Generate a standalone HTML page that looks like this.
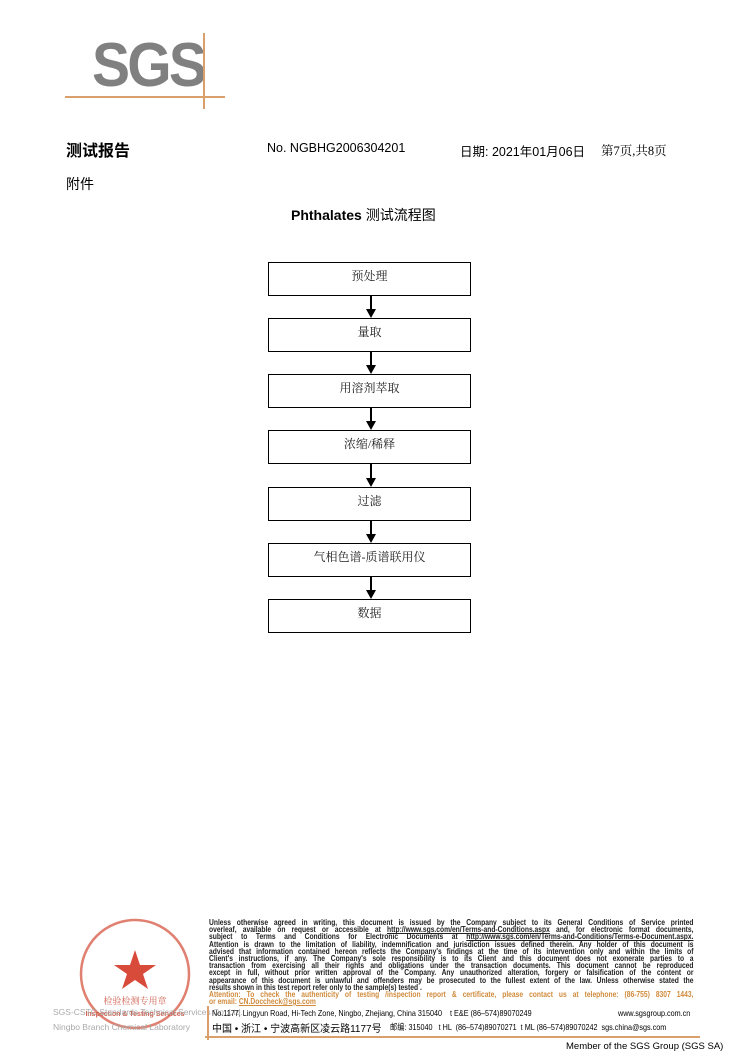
<!DOCTYPE html>
<html><head><meta charset="utf-8"><style>
body{margin:0;width:750px;height:1060px;position:relative;background:#fff;font-family:"Liberation Sans","Noto Sans CJK SC",sans-serif;overflow:hidden}
.a{position:absolute;white-space:nowrap}
.box{position:absolute;left:268px;width:203px;height:34px;border:1px solid #000;box-sizing:border-box;text-align:center;font-family:"Liberation Serif","Noto Serif CJK SC",serif;font-size:12px;line-height:12px;padding-top:7px;color:#222}
.ln{position:absolute;left:370px;width:1.5px;background:#000}
.ah{position:absolute;left:366px;width:0;height:0;border-left:5px solid transparent;border-right:5px solid transparent;border-top:9px solid #000}
.fine{position:absolute;left:209px;top:919px;width:570px;transform:scaleX(0.85);transform-origin:left top;font-size:7.9px;line-height:7.2px;font-weight:bold;color:#222;font-family:"Liberation Sans",sans-serif}
.fine div{text-align:justify;text-align-last:justify;white-space:nowrap;height:7.2px}
.fine div.l{text-align-last:left}
.or{color:#d08a3a}
</style></head><body>
<div class="a" style="left:92px;top:34px;font-size:62px;font-weight:bold;color:#808080;letter-spacing:-3px;transform:scaleX(0.92);transform-origin:left;line-height:64px">SGS</div>
<div class="a" style="left:65px;top:96px;width:160px;height:2px;background:#d9a06b"></div>
<div class="a" style="left:203px;top:33px;width:1.5px;height:76px;background:#d9a06b"></div>

<div class="a" style="left:66px;top:137px;font-size:16px;font-weight:bold">测试报告</div>
<div class="a" style="left:267px;top:141px;font-size:12.5px">No. NGBHG2006304201</div>
<div class="a" style="left:460px;top:141px;font-size:12.5px">日期: 2021年01月06日</div>
<div class="a" style="left:601px;top:141px;font-size:12.5px;font-family:'Liberation Serif','Noto Serif CJK SC',serif">第7页,共8页</div>
<div class="a" style="left:66px;top:174px;font-size:14px">附件</div>
<div class="a" style="left:291px;top:205px;font-size:14px;font-weight:bold">Phthalates <span style="font-weight:normal">测试流程图</span></div>

<div class="box" style="top:262px">预处理</div>
<div class="ln" style="top:296px;height:14px"></div><div class="ah" style="top:309px"></div>
<div class="box" style="top:318px">量取</div>
<div class="ln" style="top:352px;height:14px"></div><div class="ah" style="top:365px"></div>
<div class="box" style="top:374px">用溶剂萃取</div>
<div class="ln" style="top:408px;height:14px"></div><div class="ah" style="top:421px"></div>
<div class="box" style="top:430px">浓缩/稀释</div>
<div class="ln" style="top:464px;height:15px"></div><div class="ah" style="top:478px"></div>
<div class="box" style="top:487px">过滤</div>
<div class="ln" style="top:521px;height:14px"></div><div class="ah" style="top:534px"></div>
<div class="box" style="top:543px">气相色谱-质谱联用仪</div>
<div class="ln" style="top:577px;height:14px"></div><div class="ah" style="top:590px"></div>
<div class="box" style="top:599px">数据</div>

<svg class="a" style="left:70px;top:912px" width="140" height="130">
<circle cx="65" cy="62" r="54" fill="none" stroke="#e08070" stroke-width="2.5"/>
<polygon points="65,38 70,53 86,53 73,62 78,77 65,68 52,77 57,62 44,53 60,53" fill="#d84a3a"/>
<text x="65" y="92" font-size="9" fill="#d06050" text-anchor="middle" font-family="Noto Serif CJK SC,serif">检验检测专用章</text>
<text x="65" y="104" font-size="7" fill="#d06050" text-anchor="middle" font-weight="bold" font-family="Liberation Sans">Inspection &amp; Testing Services</text>
</svg>
<div class="a" style="left:53px;top:1007px;font-size:8.5px;color:#aaa">SGS-CSTC Standards Technical Services Co.,Ltd.</div>
<div class="a" style="left:53px;top:1022px;font-size:8.5px;color:#aaa">Ningbo Branch Chemical Laboratory</div>

<div class="fine">
<div>Unless otherwise agreed in writing, this document is issued by the Company subject to its General Conditions of Service printed</div>
<div>overleaf, available on request or accessible at <u>http://www.sgs.com/en/Terms-and-Conditions.aspx</u> and, for electronic format documents,</div>
<div>subject to Terms and Conditions for Electronic Documents at <u>http://www.sgs.com/en/Terms-and-Conditions/Terms-e-Document.aspx.</u></div>
<div>Attention is drawn to the limitation of liability, indemnification and jurisdiction issues defined therein. Any holder of this document is</div>
<div>advised that information contained hereon reflects the Company's findings at the time of its intervention only and within the limits of</div>
<div>Client's instructions, if any. The Company's sole responsibility is to its Client and this document does not exonerate parties to a</div>
<div>transaction from exercising all their rights and obligations under the transaction documents. This document cannot be reproduced</div>
<div>except in full, without prior written approval of the Company. Any unauthorized alteration, forgery or falsification of the content or</div>
<div>appearance of this document is unlawful and offenders may be prosecuted to the fullest extent of the law. Unless otherwise stated the</div>
<div class="l">results shown in this test report refer only to the sample(s) tested .</div>
<div class="or">Attention: To check the authenticity of testing /inspection report &amp; certificate, please contact us at telephone: (86-755) 8307 1443,</div>
<div class="or l">or email: <u>CN.Doccheck@sgs.com</u></div>
</div>
<div class="a" style="left:207px;top:1006px;width:1.5px;height:34px;background:#d9a06b"></div>
<div class="a" style="left:205px;top:1036px;width:495px;height:1.5px;background:#d9a06b"></div>
<div class="a" style="left:212px;top:1008px;font-size:8.5px;transform:scaleX(0.85);transform-origin:left">No.1177, Lingyun Road, Hi-Tech Zone, Ningbo, Zhejiang, China 315040 &nbsp;&nbsp; t E&amp;E (86–574)89070249</div>
<div class="a" style="left:618px;top:1008px;font-size:8.5px;transform:scaleX(0.85);transform-origin:left">www.sgsgroup.com.cn</div>
<div class="a" style="left:212px;top:1020px;font-size:10px">中国 • 浙江 • 宁波高新区凌云路1177号</div>
<div class="a" style="left:390px;top:1021px;font-size:8.5px;transform:scaleX(0.85);transform-origin:left">邮编: 315040 &nbsp; t HL &nbsp;(86–574)89070271 &nbsp;t ML (86–574)89070242 &nbsp;sgs.china@sgs.com</div>
<div class="a" style="left:566px;top:1041px;font-size:9.5px">Member of the SGS Group (SGS SA)</div>
</body></html>
